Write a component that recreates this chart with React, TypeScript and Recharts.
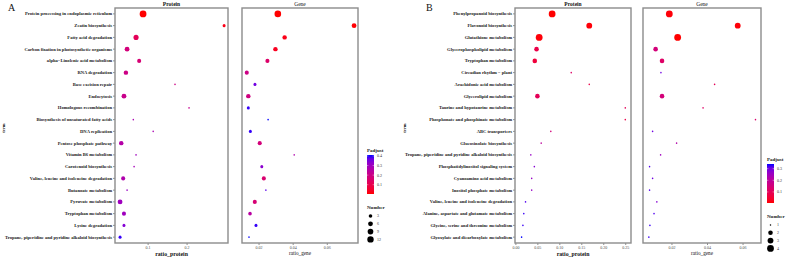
import React from "react";
import { ScatterChart, Scatter, XAxis, YAxis } from "recharts";

// ---- panel A ----
const termsA = [
  "Protein processing in endoplasmic reticulum",
  "Zeatin biosynthesis",
  "Fatty acid degradation",
  "Carbon fixation in photosynthetic organisms",
  "alpha\u2212Linolenic acid metabolism",
  "RNA degradation",
  "Base excision repair",
  "Endocytosis",
  "Homologous recombination",
  "Biosynthesis of unsaturated fatty acids",
  "DNA replication",
  "Pentose phosphate pathway",
  "Vitamin B6 metabolism",
  "Carotenoid biosynthesis",
  "Valine, leucine and isoleucine degradation",
  "Butanoate metabolism",
  "Pyruvate metabolism",
  "Tryptophan metabolism",
  "Lysine degradation",
  "Tropane, piperidine and pyridine alkaloid biosynthesis",
];
const proteinRatioA = [0.087, 0.295, 0.069, 0.046, 0.077, 0.043, 0.169, 0.038, 0.205, 0.062, 0.113, 0.031, 0.069, 0.064, 0.036, 0.046, 0.028, 0.038, 0.038, 0.028];
const proteinNumA = [14, 2, 7, 6, 4, 5, 1, 6, 1, 1, 1, 5, 1, 1, 4, 1, 6, 4, 2, 2];
const proteinPadjA = [0.003, 0.02, 0.12, 0.18, 0.17, 0.2, 0.2, 0.21, 0.22, 0.28, 0.28, 0.26, 0.3, 0.29, 0.27, 0.31, 0.3, 0.3, 0.34, 0.4];
const geneRatioA = [0.031, 0.0757, 0.035, 0.0296, 0.0249, 0.0128, 0.0176, 0.0137, 0.0137, 0.0253, 0.0149, 0.0204, 0.0406, 0.0216, 0.0228, 0.024, 0.0175, 0.0147, 0.0182, 0.0141];
const geneNumA = [13, 6, 5, 5, 4, 4, 2, 5, 2, 1, 2, 4, 1, 2, 4, 1, 4, 3, 2, 1];
const genePadjA = [0.003, 0.005, 0.02, 0.03, 0.15, 0.2, 0.36, 0.19, 0.4, 0.41, 0.4, 0.18, 0.27, 0.33, 0.16, 0.38, 0.17, 0.25, 0.4, 0.41];
const padjLimitsA = [0.003, 0.41];
const padjBreaksA = [0.1, 0.2, 0.3, 0.4];
const numLimitsA = [1, 14];
const numBreaksA = [3, 6, 9, 12];

// ---- panel B ----
const termsB = [
  "Phenylpropanoid biosynthesis",
  "Flavonoid biosynthesis",
  "Glutathione metabolism",
  "Glycerophospholipid metabolism",
  "Tryptophan metabolism",
  "Circadian rhythm \u2212 plant",
  "Arachidonic acid metabolism",
  "Glycerolipid metabolism",
  "Taurine and hypotaurine metabolism",
  "Phosphonate and phosphinate metabolism",
  "ABC transporters",
  "Glucosinolate biosynthesis",
  "Tropane, piperidine and pyridine alkaloid biosynthesis",
  "Phosphatidylinositol signaling system",
  "Cyanoamino acid metabolism",
  "Inositol phosphate metabolism",
  "Valine, leucine and isoleucine degradation",
  "Alanine, aspartate and glutamate metabolism",
  "Glycine, serine and threonine metabolism",
  "Glyoxylate and dicarboxylate metabolism",
];
const proteinRatioB = [0.0825, 0.167, 0.053, 0.047, 0.043, 0.126, 0.167, 0.049, 0.249, 0.249, 0.0795, 0.0576, 0.034, 0.042, 0.036, 0.036, 0.022, 0.018, 0.016, 0.013];
const proteinNumB = [4, 3, 4, 2, 2, 1, 1, 2, 1, 1, 1, 1, 1, 1, 1, 1, 1, 1, 1, 1];
const proteinPadjB = [0.005, 0.01, 0.01, 0.08, 0.06, 0.12, 0.08, 0.1, 0.1, 0.08, 0.15, 0.2, 0.26, 0.28, 0.26, 0.26, 0.32, 0.33, 0.33, 0.34];
const geneRatioB = [0.0185, 0.057, 0.0232, 0.0108, 0.0144, 0.0138, 0.044, 0.0144, 0.0375, 0.067, 0.0091, 0.0226, 0.0136, 0.0074, 0.0091, 0.0074, 0.0115, 0.0099, 0.0076, 0.007];
const geneNumB = [4, 3, 4, 2, 2, 1, 1, 2, 1, 1, 1, 1, 1, 1, 1, 1, 1, 1, 1, 1];
const genePadjB = [0.01, 0.01, 0.005, 0.15, 0.12, 0.3, 0.1, 0.15, 0.12, 0.13, 0.3, 0.22, 0.25, 0.32, 0.3, 0.32, 0.28, 0.32, 0.33, 0.33];
const padjLimitsB = [0.005, 0.34];
const padjBreaksB = [0.1, 0.2, 0.3];
const numLimitsB = [1, 4];
const numBreaksB = [1, 2, 3, 4];

const SERIF = "'Liberation Serif', 'DejaVu Serif', serif";

// red -> blue interpolated in Lab like ggplot
function toLab(hex: string) {
  const c = [1, 3, 5].map((i) => parseInt(hex.slice(i, i + 2), 16) / 255)
    .map((v) => (v <= 0.04045 ? v / 12.92 : Math.pow((v + 0.055) / 1.055, 2.4)));
  const x = (0.4124 * c[0] + 0.3576 * c[1] + 0.1805 * c[2]) / 0.95047;
  const y = 0.2126 * c[0] + 0.7152 * c[1] + 0.0722 * c[2];
  const z = (0.0193 * c[0] + 0.1192 * c[1] + 0.9505 * c[2]) / 1.08883;
  const f = (t: number) => (t > 0.008856 ? Math.cbrt(t) : 7.787 * t + 16 / 116);
  return [116 * f(y) - 16, 500 * (f(x) - f(y)), 200 * (f(y) - f(z))];
}
function fromLab([L, a, b]: number[]) {
  const fy = (L + 16) / 116, fx = fy + a / 500, fz = fy - b / 200;
  const fi = (t: number) => (t * t * t > 0.008856 ? t * t * t : (t - 16 / 116) / 7.787);
  const x = fi(fx) * 0.95047, y = fi(fy), z = fi(fz) * 1.08883;
  const lin = [
    3.2406 * x - 1.5372 * y - 0.4986 * z,
    -0.9689 * x + 1.8758 * y + 0.0415 * z,
    0.0557 * x - 0.204 * y + 1.057 * z,
  ];
  const g = lin.map((v) => {
    const s = v <= 0.0031308 ? 12.92 * v : 1.055 * Math.pow(v, 1 / 2.4) - 0.055;
    return Math.round(Math.max(0, Math.min(1, s)) * 255);
  });
  return `rgb(${g[0]},${g[1]},${g[2]})`;
}
const LAB_LOW = toLab("#FF0000");
const LAB_HIGH = toLab("#0000FF");
function gradColor(t: number) {
  const k = Math.max(0, Math.min(1, t));
  return fromLab(LAB_LOW.map((v, i) => v + (LAB_HIGH[i] - v) * k));
}

function makeData(terms: string[], ratio: number[], num: number[], padj: number[]) {
  return terms.map((term, i) => ({ term, ratio: ratio[i], number: num[i], padj: padj[i] }));
}

// ggplot-like area scaling (size 1..6)
function dotRadius(n: number, lim: number[]) {
  const t = (n - lim[0]) / (lim[1] - lim[0]);
  const size = 1 + 5 * Math.sqrt(Math.max(0, t));
  return (0.5 + 1.05 * size) / 2;
}

const TermTick = (p: any) => (
  <text x={p.x} y={p.y} dy="0.35em" textAnchor="end" fontSize={4.6} fontWeight="bold"
    fontFamily={SERIF} fill="#1a1a1a">
    {p.payload.value}
  </text>
);

const makeXTick = (fmt: (v: number) => string) => (p: any) => (
  <text x={p.x} y={p.y} dy="0.8em" textAnchor="middle" fontSize={4} fontFamily={SERIF} fill="#4d4d4d">
    {fmt(p.payload.value)}
  </text>
);

type FacetProps = {
  left: number;
  width: number;
  data: any[];
  domain: number[];
  ticks: number[];
  showY: boolean;
  yWidth?: number;
  padjLim: number[];
  numLim: number[];
  fmt: (v: number) => string;
};

function Facet({ left, width, data, domain, ticks, showY, yWidth, padjLim, numLim, fmt }: FacetProps) {
  return (
    <div style={{ position: "absolute", left, top: 0 }}>
      <ScatterChart width={width} height={258} margin={{ top: 8, right: 0, bottom: 0, left: 0 }}>
        <XAxis
          type="number"
          dataKey="ratio"
          domain={domain}
          ticks={ticks}
          allowDataOverflow
          interval={0}
          height={15}
          tickSize={2}
          tickMargin={1}
          axisLine={false}
          tickLine={{ stroke: "#444", strokeWidth: 0.6 }}
          tick={makeXTick(fmt)}
        />
        <YAxis
          type="category"
          dataKey="term"
          allowDuplicatedCategory={false}
          reversed
          interval={0}
          hide={!showY}
          width={yWidth ?? 0}
          tickSize={2}
          tickMargin={1}
          axisLine={false}
          tickLine={{ stroke: "#444", strokeWidth: 0.6 }}
          tick={TermTick}
        />
        <Scatter
          data={data}
          isAnimationActive={false}
          shape={(p: any) => (
            <circle
              cx={p.cx}
              cy={p.cy}
              r={dotRadius(p.payload.number, numLim)}
              fill={gradColor((p.payload.padj - padjLim[0]) / (padjLim[1] - padjLim[0]))}
            />
          )}
        />
      </ScatterChart>
    </div>
  );
}

function Legend({ x, y, padjLim, padjBreaks, numLim, numBreaks, id }: any) {
  const barTop = y + 5;
  const barH = 39;
  const barBottom = barTop + barH;
  const numTop = barBottom + 13;
  const stops = Array.from({ length: 11 }, (_, i) => i / 10);
  return (
    <g fontFamily={SERIF}>
      <defs>
        <linearGradient id={id} x1="0" y1="1" x2="0" y2="0">
          {stops.map((s) => (
            <stop key={s} offset={s} stopColor={gradColor(s)} />
          ))}
        </linearGradient>
      </defs>
      <text x={x} y={y + 1.5} fontSize={5} fontWeight="bold" fill="#222">Padjust</text>
      <rect x={x} y={barTop} width={7} height={barH} fill={`url(#${id})`} />
      {padjBreaks.map((b: number) => {
        const yy = barBottom - ((b - padjLim[0]) / (padjLim[1] - padjLim[0])) * barH;
        return (
          <g key={b}>
            <line x1={x} x2={x + 1.4} y1={yy} y2={yy} stroke="#fff" strokeWidth={0.4} />
            <line x1={x + 5.6} x2={x + 7} y1={yy} y2={yy} stroke="#fff" strokeWidth={0.4} />
            <text x={x + 10} y={yy + 1.4} fontSize={4} fill="#333">{b.toFixed(1)}</text>
          </g>
        );
      })}
      <text x={x} y={numTop + 1.5} fontSize={5} fontWeight="bold" fill="#222">Number</text>
      {numBreaks.map((n: number, i: number) => {
        const yy = numTop + 9 + i * 7.8;
        return (
          <g key={n}>
            <circle cx={x + 3.5} cy={yy} r={dotRadius(n, numLim)} fill="#000" />
            <text x={x + 10} y={yy + 1.4} fontSize={4} fill="#333">{n}</text>
          </g>
        );
      })}
    </g>
  );
}

export default function App() {
  const protA = makeData(termsA, proteinRatioA, proteinNumA, proteinPadjA);
  const geneA = makeData(termsA, geneRatioA, geneNumA, genePadjA);
  const protB = makeData(termsB, proteinRatioB, proteinNumB, proteinPadjB);
  const geneB = makeData(termsB, geneRatioB, geneNumB, genePadjB);
  const f1 = (v: number) => String(v);
  const f2 = (v: number) => v.toFixed(2);

  const frames = [
    { x: 115, w: 113 },
    { x: 242, w: 116 },
    { x: 515, w: 116 },
    { x: 643, w: 118 },
  ];

  return (
    <div style={{ position: "absolute", left: 0, top: 0, width: 787, height: 258, background: "#fff" }}>
      <Facet left={0} width={228} data={protA} domain={[0.015, 0.305]} ticks={[0.1, 0.2]}
        showY yWidth={115} padjLim={padjLimitsA} numLim={numLimitsA} fmt={f1} />
      <Facet left={242} width={116} data={geneA} domain={[0.01, 0.078]} ticks={[0.02, 0.04, 0.06]}
        showY={false} padjLim={padjLimitsA} numLim={numLimitsA} fmt={f2} />
      <Facet left={393} width={238} data={protB} domain={[-0.002, 0.262]} ticks={[0, 0.05, 0.1, 0.15, 0.2, 0.25]}
        showY yWidth={122} padjLim={padjLimitsB} numLim={numLimitsB} fmt={f2} />
      <Facet left={643} width={118} data={geneB} domain={[0.0037, 0.0701]} ticks={[0.02, 0.04, 0.06]}
        showY={false} padjLim={padjLimitsB} numLim={numLimitsB} fmt={f2} />

      <svg width={787} height={258} style={{ position: "absolute", left: 0, top: 0, pointerEvents: "none" }}>
        {frames.map((f, i) => (
          <rect key={i} x={f.x} y={8} width={f.w} height={235} fill="none" stroke="#8c8c8c" strokeWidth={1.4} />
        ))}
        <g fontFamily={SERIF} fill="#111">
          <text x={8} y={11} fontSize={10}>A</text>
          <text x={426} y={11} fontSize={10}>B</text>
          <text x={171.5} y={6} fontSize={5.5} fontWeight="bold" textAnchor="middle">Protein</text>
          <text x={300} y={6} fontSize={5.5} textAnchor="middle">Gene</text>
          <text x={573} y={6} fontSize={5.5} fontWeight="bold" textAnchor="middle">Protein</text>
          <text x={702} y={6} fontSize={5.5} textAnchor="middle">Gene</text>
          <text x={171.5} y={255.5} fontSize={5.8} fontWeight="bold" textAnchor="middle">ratio_protein</text>
          <text x={300} y={255} fontSize={5.2} textAnchor="middle">ratio_gene</text>
          <text x={573} y={255.5} fontSize={5.8} fontWeight="bold" textAnchor="middle">ratio_protein</text>
          <text x={702} y={255} fontSize={5.2} textAnchor="middle">ratio_gene</text>
          <text transform="translate(4.5,128) rotate(-90)" fontSize={4.5} fontWeight="bold" textAnchor="middle">term</text>
          <text transform="translate(405.5,128) rotate(-90)" fontSize={4.5} fontWeight="bold" textAnchor="middle">term</text>
        </g>
        <Legend id="gA" x={367} y={150} padjLim={padjLimitsA} padjBreaks={padjBreaksA} numLim={numLimitsA} numBreaks={numBreaksA} />
        <Legend id="gB" x={767} y={159} padjLim={padjLimitsB} padjBreaks={padjBreaksB} numLim={numLimitsB} numBreaks={numBreaksB} />
      </svg>
    </div>
  );
}
